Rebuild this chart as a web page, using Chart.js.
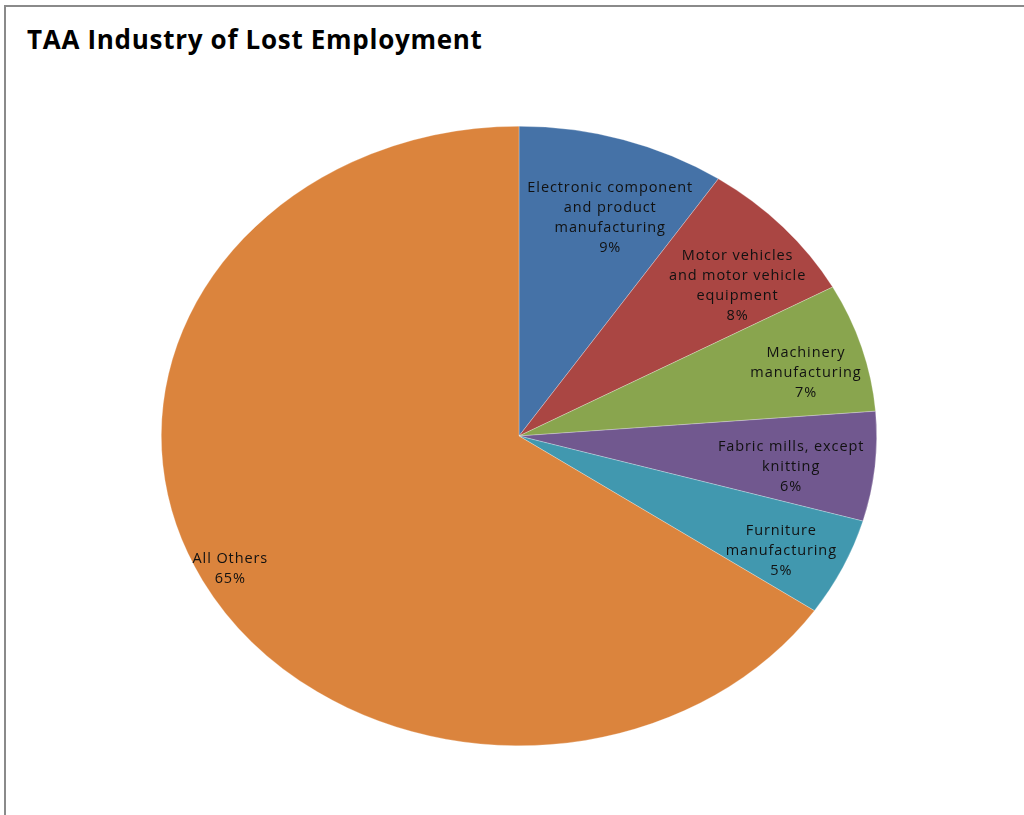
<!DOCTYPE html>
<html>
<head>
<meta charset="utf-8">
<script src="https://cdn.jsdelivr.net/npm/chart.js@4"></script>
<style>
  html, body { margin: 0; padding: 0; background: #fff; }
  #frame {
    position: absolute; left: 4px; top: 5px; width: 1030px; height: 820px;
    border-left: 2px solid #8a8a8a; border-top: 2px solid #8a8a8a;
  }
  #title {
    position: absolute; left: 27px; top: 26px; margin: 0;
    font-family: "Open Sans", sans-serif; font-weight: 700; font-size: 26px;
    line-height: 26px; color: #000; letter-spacing: 0.7px; white-space: nowrap;
  }
  #wrap { position: absolute; left: 0; top: 0; width: 1024px; height: 815px; }
</style>
</head>
<body>
<div id="frame"></div>
<h1 id="title">TAA Industry of Lost Employment</h1>
<div id="wrap"><canvas id="chart"></canvas></div>
<script>
// slice names, one entry per line of the label
const categories = [
  ['Electronic component', 'and product', 'manufacturing'],
  ['Motor vehicles', 'and motor vehicle', 'equipment'],
  ['Machinery', 'manufacturing'],
  ['Fabric mills, except', 'knitting'],
  ['Furniture', 'manufacturing'],
  ['All Others']
];
// share of lost employment, %
const shares = [9.4, 7.6, 6.7, 5.7, 5.1, 65.4];
const colours = ['#4572A7', '#AA4643', '#89A54E', '#71588F', '#4198AF', '#DB843D'];

// the pie in the picture is stretched sideways into an ellipse
const stretchX = 358 / 310;
// where each label sits: fraction of the radius, then a small nudge in px
const labelDepth = [0.76, 0.79, 0.82, 0.77, 0.81, 0.9];
const labelNudge = [[12, 7], [10, 15], [6, 10], [-2, 7], [0, 8], [-4, 3]];

const ellipse = {
  id: 'ellipse',
  beforeDatasetsDraw(chart) {
    const arc = chart.getDatasetMeta(0).data[0];
    const ctx = chart.ctx;
    ctx.save();
    ctx.translate(arc.x, arc.y);
    ctx.scale(stretchX, 1);
    ctx.translate(-arc.x, -arc.y);
  },
  afterDatasetsDraw(chart) {
    chart.ctx.restore();
  }
};

const sliceLabels = {
  id: 'sliceLabels',
  afterDraw(chart) {
    const ctx = chart.ctx;
    ctx.save();
    ctx.font = '14.5px "Open Sans", sans-serif';
    ctx.letterSpacing = '0.9px';
    ctx.fillStyle = '#111';
    ctx.textAlign = 'center';
    ctx.textBaseline = 'middle';
    chart.getDatasetMeta(0).data.forEach((arc, i) => {
      const mid = (arc.startAngle + arc.endAngle) / 2;
      const r = arc.outerRadius * labelDepth[i];
      const x = arc.x + Math.cos(mid) * r * stretchX + labelNudge[i][0];
      const y = arc.y + Math.sin(mid) * r + labelNudge[i][1];
      const lines = categories[i].concat([Math.round(shares[i]) + '%']);
      const lh = 20;
      lines.forEach((t, k) => {
        ctx.fillText(t, x, y + (k - (lines.length - 1) / 2) * lh);
      });
    });
    ctx.restore();
  }
};

new Chart(document.getElementById('chart'), {
  type: 'pie',
  data: {
    labels: categories.map(c => c.join(' ')),
    datasets: [{
      data: shares,
      backgroundColor: colours,
      borderColor: 'rgba(255,255,255,0.5)',
      borderWidth: 0.5
    }]
  },
  options: {
    responsive: true,
    maintainAspectRatio: false,
    animation: false,
    layout: { padding: { top: 126, bottom: 69, left: 209, right: 195 } },
    plugins: {
      legend: { display: false },
      tooltip: { enabled: false }
    }
  },
  plugins: [ellipse, sliceLabels]
});
</script>
</body>
</html>
